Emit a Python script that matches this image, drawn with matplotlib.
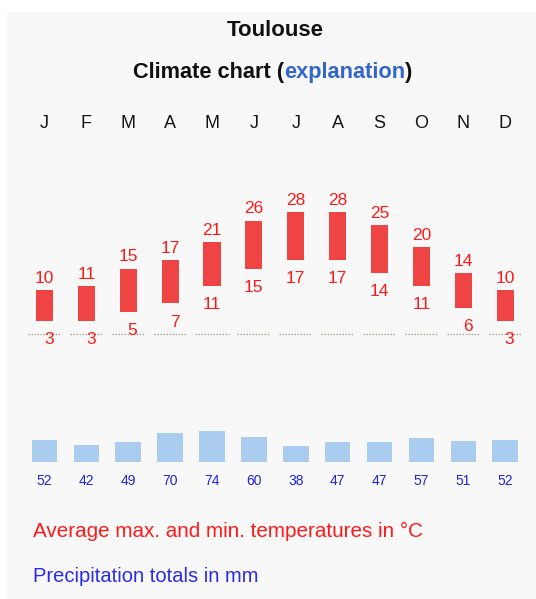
import matplotlib
matplotlib.use("Agg")
import matplotlib.pyplot as plt
from matplotlib.patches import Rectangle
from matplotlib.transforms import blended_transform_factory
import numpy as np

plt.rcParams['font.family'] = ['Liberation Sans', 'DejaVu Sans']

months = ['J', 'F', 'M', 'A', 'M', 'J', 'J', 'A', 'S', 'O', 'N', 'D']
temp_max = [10, 11, 15, 17, 21, 26, 28, 28, 25, 20, 14, 10]
temp_min = [3, 3, 5, 7, 11, 15, 17, 17, 14, 11, 6, 3]
precip = [52, 42, 49, 70, 74, 60, 38, 47, 47, 57, 51, 52]

W, H = 536, 599
fig = plt.figure(figsize=(W / 100, H / 100), dpi=100)
fig.patch.set_facecolor('white')

def fx(px):
    return px / W

def fy(py):
    return 1 - py / H

# grey panel
fig.add_artist(Rectangle((fx(7), 0), 1 - fx(7), fy(12), transform=fig.transFigure,
                         facecolor='#f8f8f8', edgecolor='none', zorder=-5))

x = np.arange(len(months))
zeros = np.zeros(len(months))
col_left = 23.56
col_w = 41.88 * 12
dot_col = '#ae9f8e'

# temperature axes: 0 degC at y=334 px, 4.36 px per degree, range -5..35
t_lo, t_hi = -5, 35
t_zero, t_scale = 334.0, 4.36
t_bottom = t_zero - t_lo * t_scale
t_top = t_zero - t_hi * t_scale
ax_t = fig.add_axes([fx(col_left), fy(t_bottom), col_w / W, (t_bottom - t_top) / H])
ax_t.set_xlim(-0.5, 11.5)
ax_t.set_ylim(t_lo, t_hi)
ax_t.axis('off')

tmax = np.array(temp_max)
tmin = np.array(temp_min)
bw = 0.41
ax_t.bar(x, tmax - tmin, bottom=tmin, width=bw, color='#ee4444', zorder=2)
ax_t.hlines(zeros, x - 0.395, x + 0.395, colors=dot_col, linewidth=0.9,
            linestyles=(0, (1.2, 1.2)), zorder=1)
for xi, hi, lo in zip(x, tmax, tmin):
    ax_t.annotate(str(hi), (xi, hi), xytext=(0, 5.2), textcoords='offset points',
                  ha='center', va='baseline', fontsize=12.5, color='#ff1a1a', zorder=3)
    ax_t.annotate(str(lo), (xi + bw / 2, lo), xytext=(0.5, -16.6), textcoords='offset points',
                  ha='right', va='baseline', fontsize=12.5, color='#ff1a1a', zorder=3)

# month letters
tr = blended_transform_factory(ax_t.transData, fig.transFigure)
for xi, m in zip(x, months):
    ax_t.text(xi, fy(127.5), m, transform=tr, ha='center', va='baseline',
              fontsize=13, color='#151515', clip_on=False)

# precipitation axes: baseline at 462.3 px, 0.423 px per mm
p_base, p_scale = 462.3, 0.423
p_hi = 100
ax_p = fig.add_axes([fx(col_left), fy(p_base), col_w / W, p_hi * p_scale / H])
ax_p.set_xlim(-0.5, 11.5)
ax_p.set_ylim(0, p_hi)
ax_p.axis('off')
ax_p.bar(x, precip, width=0.61, color='#aaccee', zorder=2)
ax_p.hlines(zeros, x - 0.395, x + 0.395, colors=dot_col, linewidth=0.9,
            linestyles=(0, (1.2, 1.2)), zorder=3)
for xi, p in zip(x, precip):
    ax_p.annotate(str(p), (xi, 0), xytext=(0, -16.0), textcoords='offset points',
                  ha='center', va='baseline', fontsize=10, color='#2222dd',
                  annotation_clip=False)

# titles
ax_bg = fig.add_axes([0, 0, 1, 1], zorder=5)
ax_bg.axis('off')
ax_bg.patch.set_alpha(0)
ax_bg.text(fx(275), fy(36.5), 'Toulouse', ha='center', va='baseline',
           fontsize=16, fontweight='bold', color='#111111', transform=fig.transFigure)
t1 = ax_bg.text(fx(133), fy(78.3), 'Climate chart (', ha='left', va='baseline',
                fontsize=15.7, fontweight='bold', color='#111111', transform=fig.transFigure)
t2 = ax_bg.annotate('explanation', xy=(1, 0), xycoords=t1, ha='left', va='bottom',
                    fontsize=15.7, fontweight='bold', color='#3366cc', annotation_clip=False)
t3 = ax_bg.annotate(')', xy=(1, 0), xycoords=t2, ha='left', va='bottom',
                    fontsize=15.7, fontweight='bold', color='#111111', annotation_clip=False)

# legend texts
ax_bg.text(fx(33), fy(537.3), 'Average max. and min. temperatures in °C', ha='left',
           va='baseline', fontsize=14.9, color='#ff1a1a', transform=fig.transFigure)
ax_bg.text(fx(33), fy(582.5), 'Precipitation totals in mm', ha='left',
           va='baseline', fontsize=14.5, color='#2a2aee', transform=fig.transFigure)

fig.savefig('out.png', dpi=100, facecolor='white')
